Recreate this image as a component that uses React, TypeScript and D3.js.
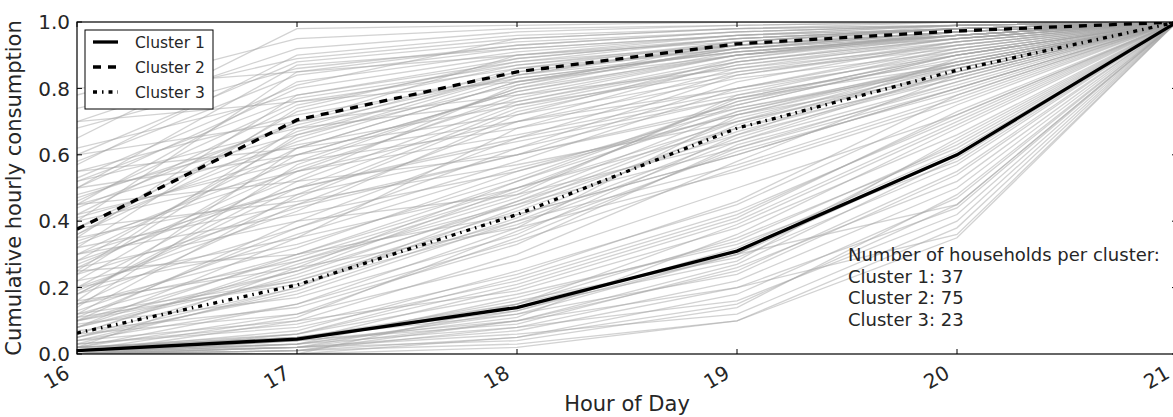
import * as d3 from "d3"

const hours = [16, 17, 18, 19, 20, 21]
const yTicks = [0, 0.2, 0.4, 0.6, 0.8, 1.0]

// cluster centroids (black lines)
const cluster1 = [0.01, 0.045, 0.14, 0.31, 0.6, 1.0]
const cluster2 = [0.376, 0.705, 0.85, 0.934, 0.973, 1.0]
const cluster3 = [0.063, 0.208, 0.42, 0.68, 0.855, 1.0]

const clusterCounts = [37, 75, 23]

// individual households (grey lines), values for 16..21
const households1 = [
  [0.0, 0.01, 0.05, 0.15, 0.45, 1],
  [0.0, 0.02, 0.1, 0.25, 0.55, 1],
  [0.01, 0.03, 0.12, 0.3, 0.6, 1],
  [0.0, 0.0, 0.02, 0.1, 0.38, 1],
  [0.02, 0.05, 0.15, 0.35, 0.62, 1],
  [0.0, 0.04, 0.2, 0.4, 0.7, 1],
  [0.01, 0.06, 0.18, 0.33, 0.58, 1],
  [0.0, 0.01, 0.08, 0.22, 0.5, 1],
  [0.03, 0.08, 0.22, 0.42, 0.72, 1],
  [0.0, 0.02, 0.06, 0.12, 0.4, 1],
  [0.01, 0.05, 0.14, 0.28, 0.65, 1],
  [0.0, 0.03, 0.11, 0.36, 0.68, 1],
  [0.02, 0.04, 0.09, 0.26, 0.52, 1],
  [0.0, 0.0, 0.05, 0.18, 0.47, 1],
  [0.01, 0.07, 0.25, 0.45, 0.75, 1],
  [0.0, 0.02, 0.13, 0.32, 0.61, 1],
  [0.04, 0.1, 0.19, 0.38, 0.66, 1],
  [0.0, 0.01, 0.03, 0.1, 0.35, 1],
  [0.01, 0.04, 0.16, 0.29, 0.57, 1],
  [0.0, 0.05, 0.12, 0.24, 0.54, 1],
  [0.02, 0.06, 0.21, 0.41, 0.73, 1],
  [0.0, 0.03, 0.17, 0.34, 0.63, 1],
  [0.01, 0.02, 0.07, 0.2, 0.44, 1],
  [0.0, 0.04, 0.15, 0.39, 0.69, 1],
  [0.03, 0.09, 0.24, 0.46, 0.78, 1],
  [0.0, 0.01, 0.1, 0.27, 0.59, 1],
  [0.01, 0.03, 0.08, 0.16, 0.42, 1],
  [0.0, 0.06, 0.23, 0.43, 0.71, 1],
  [0.02, 0.05, 0.13, 0.3, 0.64, 1],
  [0.0, 0.02, 0.04, 0.14, 0.48, 1],
  [0.02, 0.04, 0.1, 0.2, 0.36, 1],
  [0.0, 0.0, 0.15, 0.3, 0.45, 1],
]

const households2 = [
  [0.38, 0.7, 0.85, 0.93, 0.97, 1],
  [0.2, 0.55, 0.78, 0.9, 0.96, 1],
  [0.5, 0.8, 0.9, 0.95, 0.98, 1],
  [0.3, 0.62, 0.82, 0.92, 0.97, 1],
  [0.78, 0.95, 0.98, 0.99, 1.0, 1],
  [0.15, 0.45, 0.7, 0.88, 0.95, 1],
  [0.6, 0.88, 0.94, 0.97, 0.99, 1],
  [0.25, 0.68, 0.86, 0.94, 0.98, 1],
  [0.42, 0.75, 0.88, 0.93, 0.96, 1],
  [0.1, 0.4, 0.65, 0.85, 0.94, 1],
  [0.55, 0.72, 0.83, 0.91, 0.96, 1],
  [0.33, 0.58, 0.8, 0.9, 0.95, 1],
  [0.7, 0.92, 0.97, 0.99, 1.0, 1],
  [0.18, 0.52, 0.76, 0.89, 0.97, 1],
  [0.45, 0.82, 0.91, 0.96, 0.98, 1],
  [0.28, 0.65, 0.84, 0.93, 0.97, 1],
  [0.62, 0.78, 0.89, 0.95, 0.98, 1],
  [0.12, 0.48, 0.74, 0.87, 0.95, 1],
  [0.36, 0.73, 0.87, 0.94, 0.98, 1],
  [0.48, 0.66, 0.81, 0.92, 0.97, 1],
  [0.22, 0.6, 0.79, 0.91, 0.96, 1],
  [0.4, 0.85, 0.93, 0.97, 0.99, 1],
  [0.65, 0.98, 0.99, 1.0, 1.0, 1],
  [0.08, 0.35, 0.68, 0.86, 0.95, 1],
  [0.52, 0.77, 0.87, 0.93, 0.97, 1],
  [0.3, 0.5, 0.75, 0.88, 0.96, 1],
  [0.44, 0.7, 0.9, 0.96, 0.99, 1],
  [0.16, 0.62, 0.82, 0.92, 0.96, 1],
  [0.58, 0.84, 0.92, 0.96, 0.98, 1],
  [0.26, 0.56, 0.77, 0.9, 0.97, 1],
  [0.35, 0.78, 0.88, 0.95, 0.98, 1],
  [0.47, 0.69, 0.84, 0.94, 0.99, 1],
  [0.2, 0.43, 0.72, 0.89, 0.96, 1],
  [0.68, 0.86, 0.93, 0.97, 0.99, 1],
  [0.38, 0.64, 0.83, 0.91, 0.95, 1],
  [0.14, 0.57, 0.8, 0.93, 0.98, 1],
  [0.53, 0.81, 0.95, 0.98, 0.99, 1],
  [0.24, 0.66, 0.85, 0.92, 0.96, 1],
  [0.41, 0.6, 0.79, 0.9, 0.97, 1],
  [0.32, 0.74, 0.89, 0.95, 0.98, 1],
  [0.57, 0.9, 0.96, 0.98, 1.0, 1],
  [0.19, 0.47, 0.73, 0.87, 0.94, 1],
  [0.46, 0.76, 0.86, 0.92, 0.97, 1],
  [0.27, 0.53, 0.81, 0.94, 0.98, 1],
  [0.74, 0.89, 0.95, 0.98, 0.99, 1],
  [0.11, 0.38, 0.62, 0.84, 0.93, 1],
  [0.36, 0.67, 0.84, 0.91, 0.96, 1],
  [0.5, 0.87, 0.92, 0.96, 0.99, 1],
  [0.45, 0.52, 0.6, 0.75, 0.9, 1],
  [0.3, 0.42, 0.55, 0.72, 0.88, 1],
  [0.5, 0.6, 0.7, 0.8, 0.92, 1],
  [0.35, 0.48, 0.62, 0.77, 0.9, 1],
  [0.18, 0.38, 0.58, 0.8, 0.93, 1],
  [0.4, 0.55, 0.66, 0.79, 0.91, 1],
  [0.55, 0.62, 0.72, 0.84, 0.94, 1],
  [0.32, 0.45, 0.6, 0.74, 0.87, 1],
  [0.6, 0.7, 0.78, 0.86, 0.93, 1],
  [0.28, 0.5, 0.65, 0.78, 0.88, 1],
  [0.45, 0.63, 0.75, 0.85, 0.92, 1],
  [0.24, 0.44, 0.6, 0.82, 0.94, 1],
  [0.7, 0.76, 0.82, 0.9, 0.96, 1],
  [0.34, 0.55, 0.7, 0.83, 0.91, 1],
  [0.42, 0.58, 0.68, 0.8, 0.9, 1],
  [0.8, 0.85, 0.9, 0.94, 0.98, 1],
  [0.18, 0.5, 0.64, 0.77, 0.87, 1],
  [0.52, 0.68, 0.76, 0.88, 0.95, 1],
]

const households3 = [
  [0.05, 0.18, 0.4, 0.65, 0.85, 1],
  [0.1, 0.25, 0.45, 0.7, 0.88, 1],
  [0.02, 0.12, 0.35, 0.62, 0.82, 1],
  [0.08, 0.3, 0.5, 0.75, 0.9, 1],
  [0.04, 0.15, 0.38, 0.72, 0.87, 1],
  [0.12, 0.22, 0.42, 0.6, 0.8, 1],
  [0.06, 0.28, 0.48, 0.78, 0.92, 1],
  [0.0, 0.1, 0.3, 0.58, 0.84, 1],
  [0.15, 0.32, 0.55, 0.74, 0.86, 1],
  [0.03, 0.2, 0.44, 0.68, 0.83, 1],
  [0.09, 0.17, 0.36, 0.66, 0.89, 1],
  [0.05, 0.24, 0.46, 0.71, 0.86, 1],
  [0.07, 0.14, 0.33, 0.63, 0.81, 1],
  [0.02, 0.26, 0.52, 0.76, 0.91, 1],
  [0.11, 0.21, 0.39, 0.64, 0.85, 1],
  [0.04, 0.19, 0.41, 0.69, 0.87, 1],
  [0.06, 0.27, 0.47, 0.73, 0.88, 1],
  [0.01, 0.11, 0.37, 0.61, 0.79, 1],
  [0.08, 0.23, 0.43, 0.67, 0.84, 1],
  [0.1, 0.29, 0.49, 0.77, 0.9, 1],
  [0.22, 0.35, 0.5, 0.68, 0.86, 1],
  [0.12, 0.3, 0.52, 0.73, 0.87, 1],
  [0.26, 0.4, 0.48, 0.64, 0.82, 1],
  [0.08, 0.25, 0.5, 0.7, 0.85, 1],
  [0.15, 0.28, 0.45, 0.62, 0.8, 1],
  [0.2, 0.33, 0.53, 0.76, 0.89, 1],
  [0.05, 0.2, 0.46, 0.66, 0.83, 1],
  [0.38, 0.46, 0.57, 0.7, 0.84, 1],
  [0.1, 0.22, 0.4, 0.57, 0.78, 1],
  [0.16, 0.26, 0.38, 0.55, 0.76, 1],
  [0.02, 0.15, 0.34, 0.56, 0.77, 1],
  [0.13, 0.36, 0.56, 0.72, 0.84, 1],
  [0.25, 0.3, 0.42, 0.6, 0.8, 1],
  [0.06, 0.12, 0.28, 0.5, 0.72, 1],
]

const W = 1173
const H = 417
const margin = { left: 77, top: 22, right: 1177, bottom: 354 }
const font = "'DejaVu Sans', sans-serif"
const textColor = "#262626"

export default function App() {
  const x = d3.scaleLinear().domain([16, 21]).range([margin.left, margin.right])
  const y = d3.scaleLinear().domain([0, 1]).range([margin.bottom, margin.top])

  const line = d3
    .line<number>()
    .x((d, i) => x(hours[i]))
    .y((d) => y(d))

  const allHouseholds = [...households1, ...households2, ...households3]

  const means = [
    { name: "Cluster 1", values: cluster1, dash: "none" },
    { name: "Cluster 2", values: cluster2, dash: "8,7" },
    { name: "Cluster 3", values: cluster3, dash: "4,5,1.5,5" },
  ]

  const tickLen = 5

  return (
    <svg
      width={W}
      height={H}
      style={{ position: "absolute", left: 0, top: 0, background: "#fff" }}
      fontFamily={font}
    >
      <defs>
        <clipPath id="plot">
          <rect x={margin.left} y={margin.top} width={margin.right - margin.left} height={margin.bottom - margin.top} />
        </clipPath>
      </defs>

      <g clipPath="url(#plot)">
        {allHouseholds.map((d, i) => (
          <path key={i} d={line(d) || ""} fill="none" stroke="#a6a6a6" strokeOpacity={0.5} strokeWidth={1.3} />
        ))}
        {means.map((m) => (
          <path
            key={m.name}
            d={line(m.values) || ""}
            fill="none"
            stroke="#000"
            strokeWidth={3.3}
            strokeDasharray={m.dash}
          />
        ))}
      </g>

      {/* frame */}
      <rect
        x={margin.left}
        y={margin.top}
        width={margin.right - margin.left}
        height={margin.bottom - margin.top}
        fill="none"
        stroke="#000"
        strokeWidth={1.2}
      />

      {/* y ticks */}
      {yTicks.map((t) => (
        <g key={t}>
          <line x1={margin.left} x2={margin.left + tickLen} y1={y(t)} y2={y(t)} stroke="#000" />
          <line x1={margin.right} x2={margin.right - tickLen} y1={y(t)} y2={y(t)} stroke="#000" />
          <text x={margin.left - 7} y={y(t)} dy="0.36em" textAnchor="end" fontSize={20} fill={textColor}>
            {t.toFixed(1)}
          </text>
        </g>
      ))}

      {/* x ticks */}
      {hours.map((h) => (
        <g key={h}>
          <line x1={x(h)} x2={x(h)} y1={margin.bottom} y2={margin.bottom - tickLen} stroke="#000" />
          <line x1={x(h)} x2={x(h)} y1={margin.top} y2={margin.top + tickLen} stroke="#000" />
          <text
            transform={`translate(${x(h) - 6},${margin.bottom + 23}) rotate(-30)`}
            textAnchor="end"
            fontSize={20}
            fill={textColor}
          >
            {h}
          </text>
        </g>
      ))}

      {/* axis labels */}
      <text x={(margin.left + margin.right) / 2} y={411} textAnchor="middle" fontSize={21} fill={textColor}>
        Hour of Day
      </text>
      <text
        transform={`translate(21,${(margin.top + margin.bottom) / 2}) rotate(-90)`}
        textAnchor="middle"
        fontSize={21}
        fill={textColor}
      >
        Cumulative hourly consumption
      </text>

      {/* legend */}
      <g>
        <rect x={85} y={30} width={128} height={79} fill="#fff" stroke="#000" strokeWidth={1} />
        {means.map((m, i) => (
          <g key={m.name} transform={`translate(0,${42 + i * 25})`}>
            <line x1={93} x2={118} y1={0} y2={0} stroke="#000" strokeWidth={3.3} strokeDasharray={m.dash} />
            <text x={135} y={0} dy="0.36em" fontSize={15.5} fill={textColor}>
              {m.name}
            </text>
          </g>
        ))}
      </g>

      {/* annotation */}
      <text x={848} y={261} fontSize={18} fill={textColor}>
        <tspan x={848}>Number of households per cluster:</tspan>
        {clusterCounts.map((c, i) => (
          <tspan key={i} x={848} dy={21.5}>
            {`Cluster ${i + 1}: ${c}`}
          </tspan>
        ))}
      </text>
    </svg>
  )
}
